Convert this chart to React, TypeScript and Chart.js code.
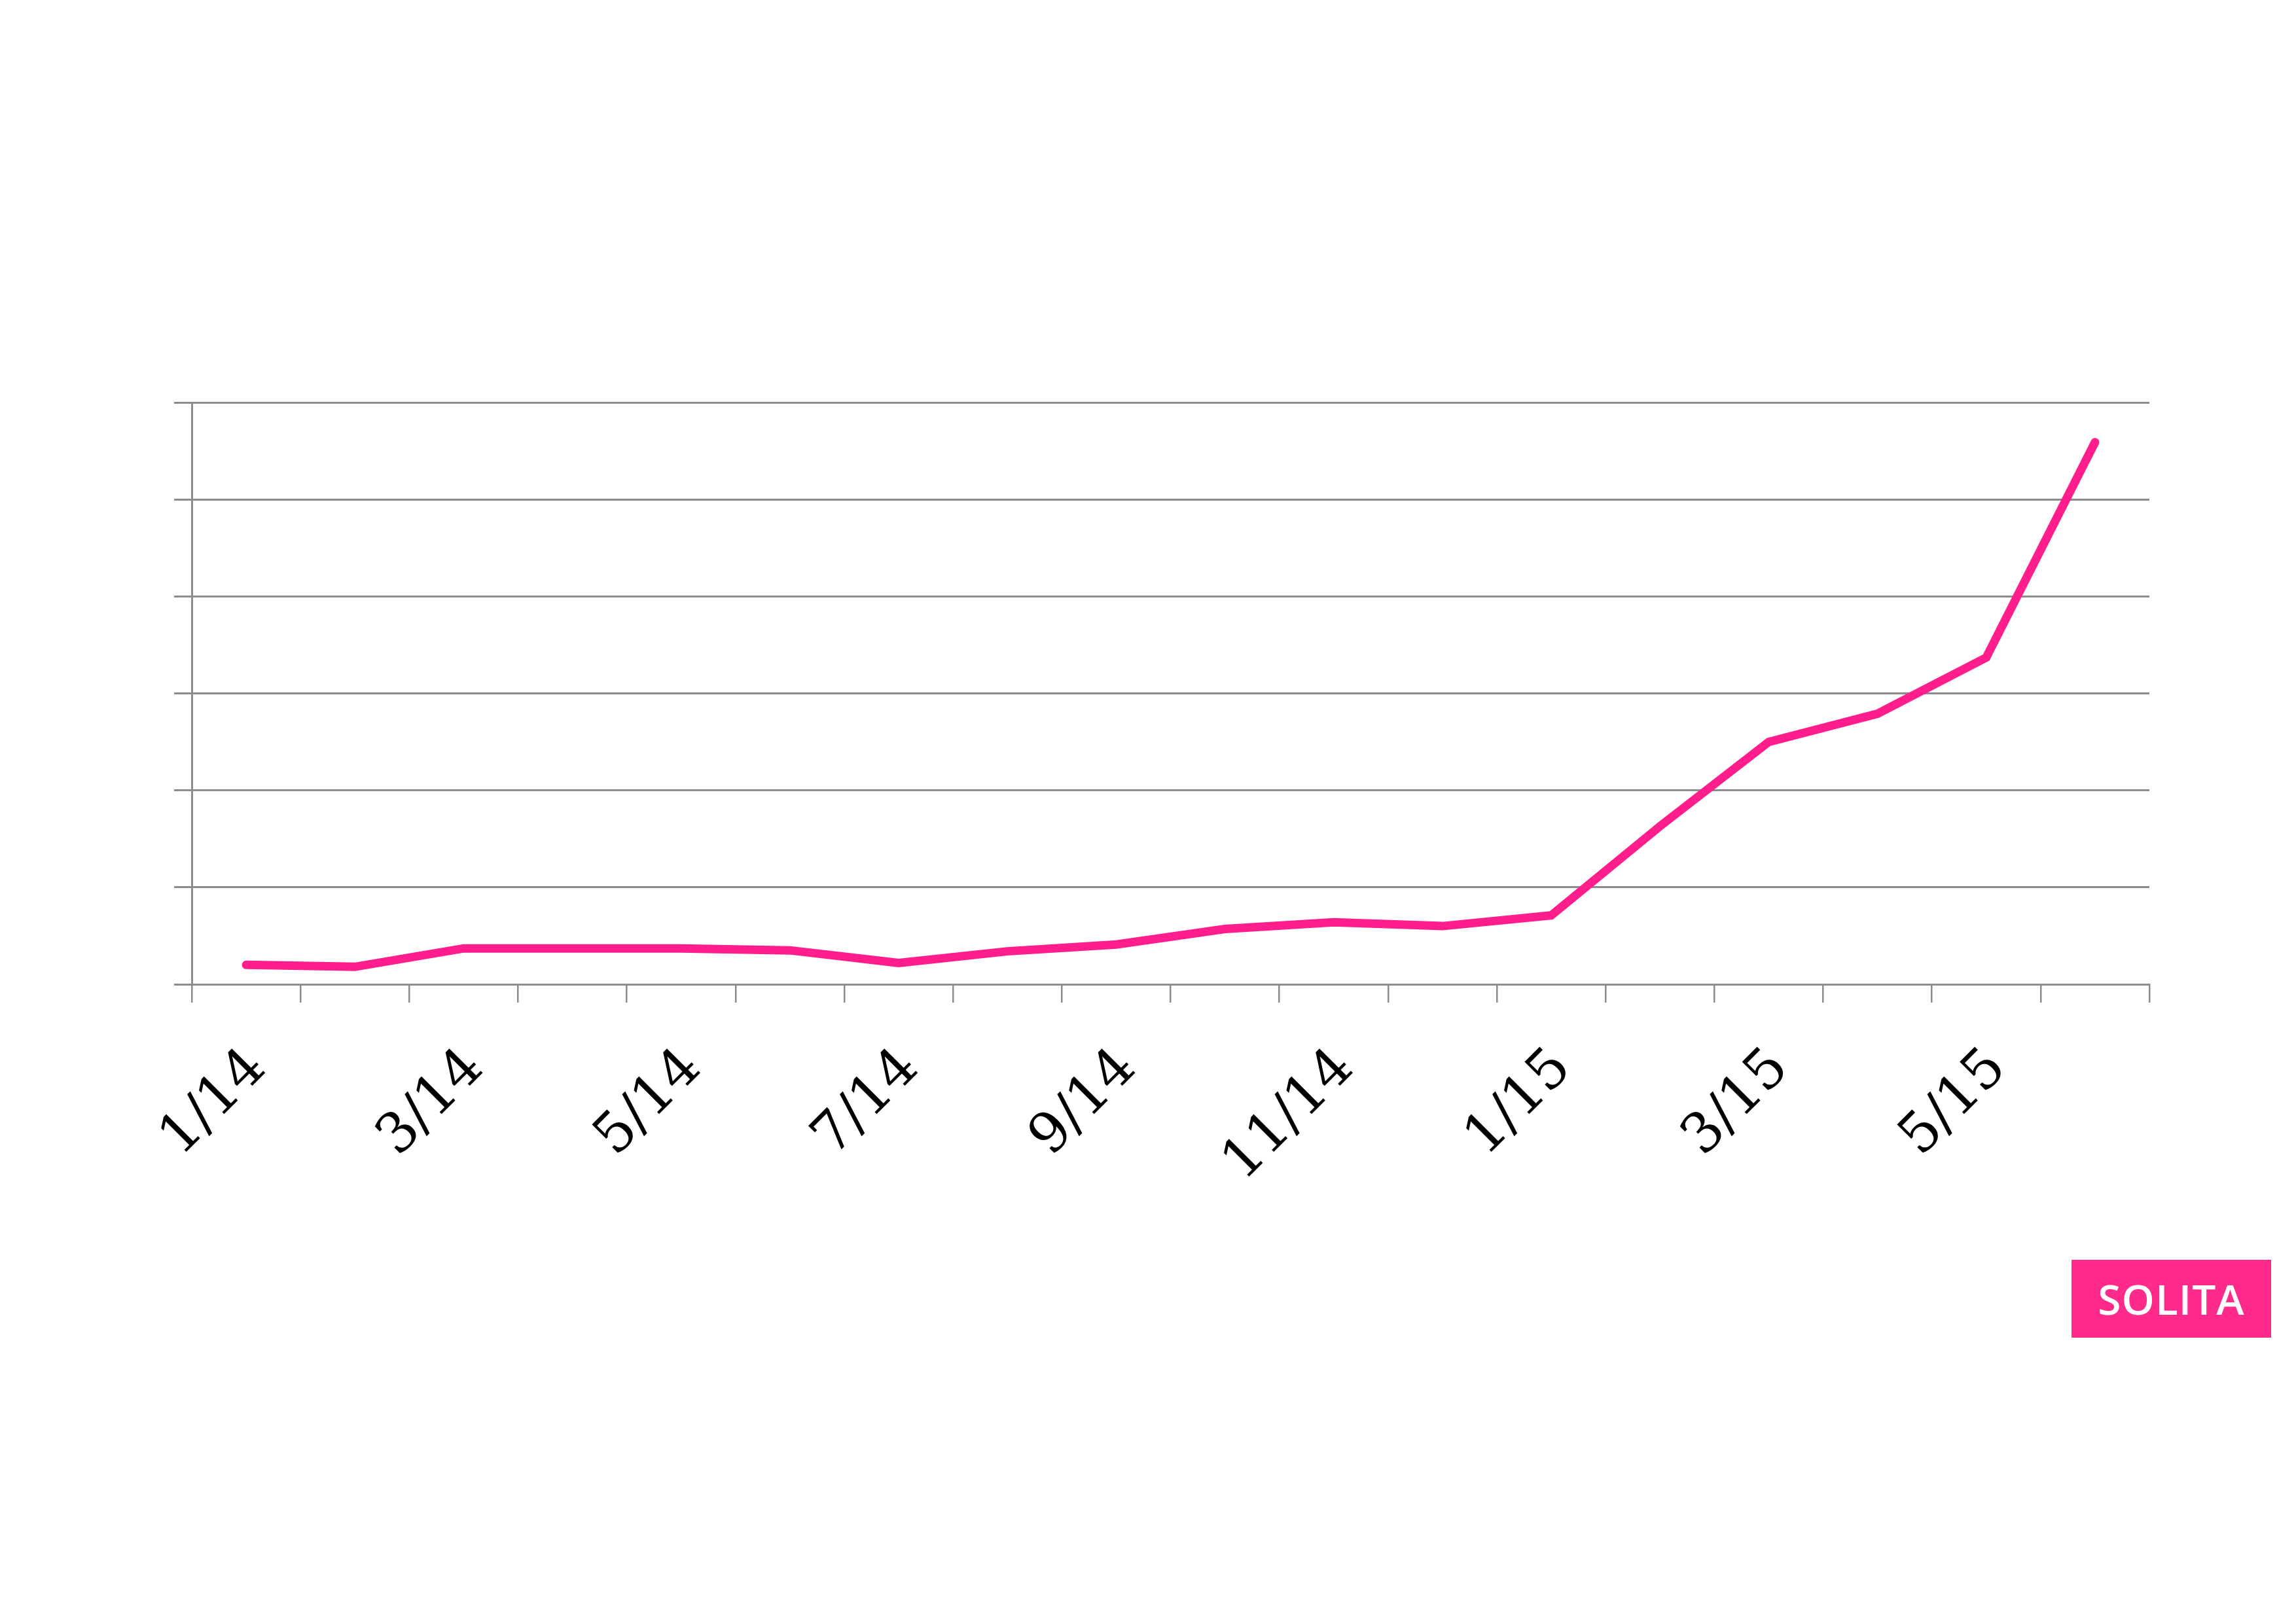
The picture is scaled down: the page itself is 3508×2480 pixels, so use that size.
import React, { useEffect, useRef } from "react";
import { Chart, registerables } from "chart.js";

Chart.register(...registerables);

const categories = [
  "1/14", "2/14", "3/14", "4/14", "5/14", "6/14", "7/14", "8/14", "9/14",
  "10/14", "11/14", "12/14", "1/15", "2/15", "3/15", "4/15", "5/15", "6/15",
];
const seriesValues = [
  0.2, 0.18, 0.37, 0.37, 0.37, 0.35, 0.22, 0.34, 0.41,
  0.57, 0.64, 0.6, 0.71, 1.63, 2.5, 2.79, 3.37, 5.59,
];
const yTicks = [0, 1, 2, 3, 4, 5, 6];
const logoText = "SOLITA";

const PINK = "#FF1E8C";
const GRID = "#8c8c8c";
const SERIF = "'DejaVu Serif', serif";

export default function App() {
  const ref = useRef<HTMLCanvasElement | null>(null);

  useEffect(() => {
    if (!ref.current) return;
    const chart = new Chart(ref.current, {
      type: "line",
      data: {
        labels: categories,
        datasets: [
          {
            data: seriesValues,
            borderColor: PINK,
            backgroundColor: PINK,
            borderWidth: 13,
            pointRadius: 0,
            tension: 0,
            borderCapStyle: "round",
            borderJoinStyle: "miter",
            clip: false,
          },
        ],
      },
      options: {
        animation: false,
        responsive: false,
        devicePixelRatio: 1,
        layout: { padding: { left: 143, right: 224, top: 615, bottom: 576 } },
        plugins: { legend: { display: false }, tooltip: { enabled: false } },
        scales: {
          x: {
            type: "category",
            offset: true,
            grid: {
              offset: true,
              drawOnChartArea: false,
              drawTicks: true,
              tickLength: 28,
              color: GRID,
              lineWidth: 2.5,
            },
            border: { display: true, color: GRID, width: 3 },
            ticks: {
              autoSkip: false,
              minRotation: 45,
              maxRotation: 45,
              padding: 52,
              labelOffset: 18,
              color: "#000",
              font: { family: SERIF, size: 84 },
              callback: (_v: any, i: number) => (i % 2 === 0 ? categories[i] : ""),
            },
            afterFit: (scale: any) => {
              scale.height = 400;
              scale.paddingLeft = 0;
              scale.paddingRight = 0;
            },
          },
          y: {
            min: yTicks[0],
            max: yTicks[yTicks.length - 1],
            afterBuildTicks: (scale: any) => {
              scale.ticks = yTicks.map((v) => ({ value: v }));
            },
            grid: {
              drawTicks: true,
              tickLength: 27,
              color: GRID,
              lineWidth: 3,
            },
            border: { display: true, color: GRID, width: 3 },
            ticks: { display: false },
            afterFit: (scale: any) => {
              scale.width = 150;
              scale.paddingTop = 0;
              scale.paddingBottom = 0;
            },
          },
        },
      },
    });
    return () => chart.destroy();
  }, []);

  return (
    <div style={{ position: "absolute", left: 0, top: 0, width: 3508, height: 2480, background: "#fff" }}>
      <canvas ref={ref} width={3508} height={2480} style={{ display: "block" }} />
      <div
        style={{
          position: "absolute",
          left: 3165,
          top: 1925,
          width: 305,
          height: 119,
          background: "#FF2A8A",
          color: "#fff",
          display: "flex",
          alignItems: "center",
          justifyContent: "center",
          fontFamily: "'Open Sans', Lato, sans-serif",
          fontSize: 64,
          fontWeight: 600,
          letterSpacing: 1,
          lineHeight: 1,
        }}
      >
        {logoText}
      </div>
    </div>
  );
}
